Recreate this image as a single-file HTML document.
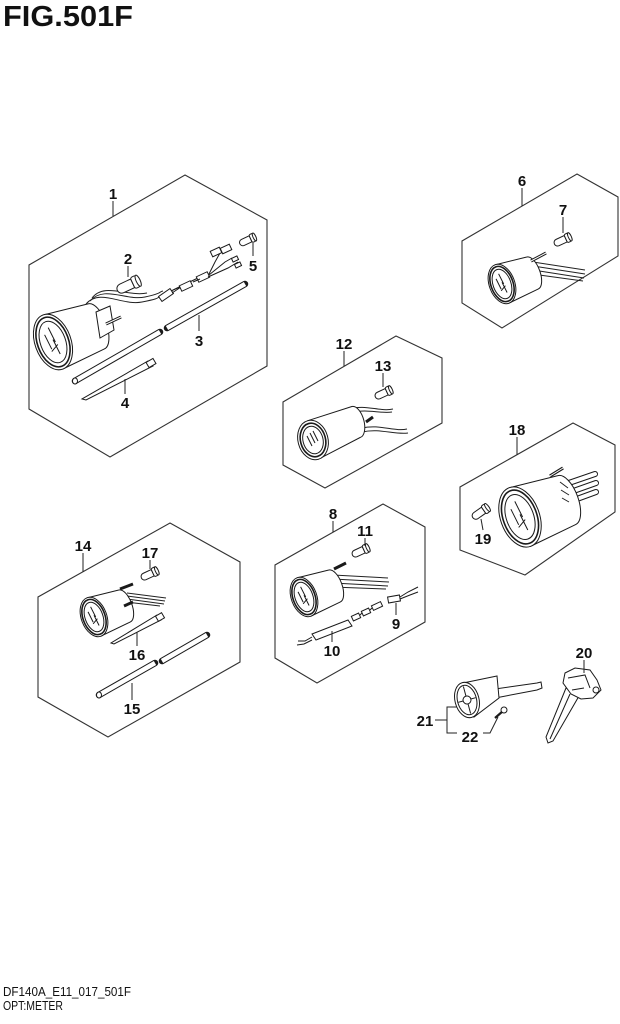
<!DOCTYPE html>
<html><head><meta charset="utf-8"><style>
html,body{margin:0;padding:0;background:#fff;}
svg{display:block;}
.b{fill:none;stroke:#333;stroke-width:1.1;}
.l{fill:none;stroke:#222;stroke-width:1;}
.n{font-family:"Liberation Sans",sans-serif;font-weight:bold;font-size:15px;fill:#111;text-anchor:middle;}
</style></head><body>
<svg width="620" height="1024" viewBox="0 0 620 1024" xmlns="http://www.w3.org/2000/svg">
<defs>
<g id="gauge" fill="#fff" stroke="#1a1a1a" stroke-width="1">
  <path vector-effect="non-scaling-stroke" d="M-8.2,-22.5 L29.2,-31.8 A9,20 -20 0 1 42.8,5.8 L8.2,22.5 Z"/>
  <g transform="rotate(-20)">
    <ellipse vector-effect="non-scaling-stroke" rx="15" ry="24"/>
    <ellipse vector-effect="non-scaling-stroke" rx="13" ry="21.5" stroke-width="1.6"/>
    <ellipse vector-effect="non-scaling-stroke" rx="10.5" ry="18"/>
  </g>
  <path vector-effect="non-scaling-stroke" d="M-7,-6 L-1,6 M-4,-12 L2,0 M0,-2 L6,10 M-1,8 L4,2" fill="none"/>
</g>
<g id="bulb" fill="#fff" stroke="#1a1a1a" stroke-width="1">
  <path vector-effect="non-scaling-stroke" d="M-6,-3.5 L3,-3.5 L3,3.5 L-6,3.5 A3.5,3.5 0 0 1 -6,-3.5 Z"/>
  <rect vector-effect="non-scaling-stroke" x="3" y="-4.5" width="4.5" height="9" rx="1.5"/>
  <ellipse vector-effect="non-scaling-stroke" cx="7.5" rx="1.5" ry="4.5"/>
</g>
</defs>

<!-- Title -->
<text x="3" y="26" font-family="Liberation Sans, sans-serif" font-weight="bold" font-size="29" fill="#111" textLength="130" lengthAdjust="spacingAndGlyphs">FIG.501F</text>

<!-- Boxes -->
<polygon class="b" points="185,175 267,220 267,366 110,457 29,409 29,265"/>
<polygon class="b" points="577,174 618,197 618,256 502,328 462,303 462,241"/>
<polygon class="b" points="396,336 442,358 442,423 325,488 283,465 283,402"/>
<polygon class="b" points="573,423 615,445 615,512 525,575 460,550 460,487"/>
<polygon class="b" points="170,523 240,562 240,662 108,737 38,697 38,597"/>
<polygon class="b" points="383,504 425,527 425,622 317,683 275,658 275,565"/>

<!-- Box 1 contents -->
<g class="l">
  <path d="M86,304 C100,288 122,306 142,302 S156,298 161,296"/>
  <path d="M90,301 C104,285 126,301 145,297 S158,292 163,291"/>
  <path d="M92,298 C104,282 128,297 147,293"/>
</g>
<use href="#gauge" transform="translate(53,342) scale(1.2)"/>
<g fill="#fff" stroke="#1a1a1a" stroke-width="1">
  <path d="M96,312 L110,306 L114,330 L100,338 Z"/>
  <path d="M106,324 L121,317" stroke-width="3"/>
  <path d="M106,324 L121,317" stroke="#fff" stroke-width="1"/>
  <rect x="-7" y="-3" width="14" height="6" transform="translate(166,295) rotate(-35)"/>
  <path d="M171,291 L182,286 M172,293 L190,281 M173,290 L200,277" fill="none"/>
  <rect x="-6" y="-3" width="12" height="6" transform="translate(186,286) rotate(-25)"/>
  <rect x="-6" y="-3" width="12" height="6" transform="translate(203,277) rotate(-25)"/>
  <path d="M193,282 L200,279 M209,274 L215,262 L220,253 M209,275 L225,262 L232,258 M208,277 L228,268 L238,262" fill="none"/>
  <rect x="-5" y="-3" width="10" height="6" transform="translate(216,252) rotate(-25)"/>
  <rect x="-5" y="-3" width="10" height="6" transform="translate(226,249) rotate(-25)"/>
  <rect x="-3" y="-2" width="6" height="4" transform="translate(235,259) rotate(-25)"/>
  <rect x="-3" y="-2" width="6" height="4" transform="translate(238,265) rotate(-25)"/>
</g>
<!-- rod 3 -->
<g stroke-linecap="round">
  <line x1="75" y1="381" x2="160" y2="332" stroke="#1a1a1a" stroke-width="6.5"/>
  <line x1="75" y1="381" x2="160" y2="332" stroke="#fff" stroke-width="4.5" stroke-linecap="butt"/>
  <line x1="167" y1="328" x2="245" y2="284" stroke="#1a1a1a" stroke-width="6.5"/>
  <line x1="167" y1="328" x2="245" y2="284" stroke="#fff" stroke-width="4.5" stroke-linecap="butt"/>
</g>
<ellipse cx="75" cy="381" rx="2.5" ry="3" fill="#fff" stroke="#1a1a1a"/>
<!-- tie 4 -->
<polygon points="148,361 153,366 86,400 82,399" fill="#fff" stroke="#1a1a1a"/>
<rect x="-4" y="-3" width="8" height="6" transform="translate(151,363) rotate(-30)" fill="#fff" stroke="#1a1a1a"/>
<!-- bulbs 2, 5 -->
<use href="#bulb" transform="translate(129,285) rotate(-25) scale(1.35)"/>
<use href="#bulb" transform="translate(248,240) rotate(-25) scale(0.95)"/>

<!-- Box 6 contents -->
<g class="l">
  <path d="M533,262 L585,270 M533,266 L585,274 M533,270 L584,278 M532,274 L583,281"/>
</g>
<use href="#gauge" transform="translate(502,284) scale(0.85)"/>
<path d="M531,261 L546,253" stroke="#1a1a1a" stroke-width="3"/>
<path d="M531,261 L546,253" stroke="#fff" stroke-width="1"/>
<use href="#bulb" transform="translate(563,240) rotate(-25)"/>

<!-- Box 12 contents -->
<g class="l">
  <path d="M350,409 C365,404 380,412 393,409"/>
  <path d="M352,413 C366,408 380,414 392,412"/>
  <path d="M362,428 C380,424 395,432 407,429"/>
  <path d="M362,432 C380,428 395,435 408,433"/>
</g>
<g transform="translate(313,440)" fill="#fff" stroke="#1a1a1a">
  <path d="M-5.2,-19.3 L38.9,-33.5 A8,16 -15 0 1 47.1,-2.5 L5.2,19.3 Z"/>
  <g transform="rotate(-15)">
    <ellipse rx="15" ry="20"/>
    <ellipse rx="12.5" ry="17" stroke-width="1.6"/>
    <ellipse rx="10" ry="14"/>
  </g>
  <path d="M-6,-4 L-1,6 M-3,-7 L2,3 M0,-9 L5,1" fill="none"/>
</g>
<path d="M366,422 L373,417" stroke="#1a1a1a" stroke-width="3"/>
<use href="#bulb" transform="translate(384,393) rotate(-25)"/>

<!-- Box 18 contents -->
<g stroke-linecap="round">
  <line x1="563" y1="485" x2="595" y2="474" stroke="#1a1a1a" stroke-width="6"/>
  <line x1="563" y1="485" x2="595" y2="474" stroke="#fff" stroke-width="4"/>
  <line x1="565" y1="494" x2="596" y2="483" stroke="#1a1a1a" stroke-width="6"/>
  <line x1="565" y1="494" x2="596" y2="483" stroke="#fff" stroke-width="4"/>
  <line x1="566" y1="503" x2="596" y2="492" stroke="#1a1a1a" stroke-width="6"/>
  <line x1="566" y1="503" x2="596" y2="492" stroke="#fff" stroke-width="4"/>
</g>
<use href="#gauge" transform="translate(520,517) scale(1.3)"/>
<path d="M560,482 L568,488 M561,490 L569,495 M562,498 L569,502" class="l"/>
<path d="M550,476 L563,468" stroke="#1a1a1a" stroke-width="3.2"/>
<path d="M550,476 L563,468" stroke="#fff" stroke-width="1"/>
<use href="#bulb" transform="translate(481,512) rotate(-35) scale(1.05)"/>

<!-- Box 14 contents -->
<g class="l">
  <path d="M127,593 L166,598 M127,596 L165,601 M127,599 L164,604 M126,602 L160,606"/>
</g>
<use href="#gauge" transform="translate(94,617) scale(0.85)"/>
<path d="M120,589 L133,584" stroke="#1a1a1a" stroke-width="3"/>
<path d="M124,606 L133,602" stroke="#1a1a1a" stroke-width="3"/>
<use href="#bulb" transform="translate(150,574) rotate(-25)"/>
<polygon points="157,615 161,620 114,644 111,643" fill="#fff" stroke="#1a1a1a"/>
<rect x="-3.5" y="-3" width="7" height="6" transform="translate(160,617) rotate(-30)" fill="#fff" stroke="#1a1a1a"/>
<g stroke-linecap="round">
  <line x1="99" y1="695" x2="155" y2="663" stroke="#1a1a1a" stroke-width="6.5"/>
  <line x1="99" y1="695" x2="155" y2="663" stroke="#fff" stroke-width="4.5" stroke-linecap="butt"/>
  <line x1="162" y1="661" x2="207" y2="635" stroke="#1a1a1a" stroke-width="6.5"/>
  <line x1="162" y1="661" x2="207" y2="635" stroke="#fff" stroke-width="4.5" stroke-linecap="butt"/>
</g>
<ellipse cx="99" cy="695" rx="2.5" ry="3" fill="#fff" stroke="#1a1a1a"/>

<!-- Box 8 contents -->
<g class="l">
  <path d="M333,575 L388,578 M333,579 L389,582 M333,583 L388,586 M332,587 L386,589"/>
</g>
<use href="#gauge" transform="translate(304,597) scale(0.85)"/>
<path d="M334,569 L346,563" stroke="#1a1a1a" stroke-width="3"/>
<use href="#bulb" transform="translate(361,551) rotate(-25)"/>
<g fill="#fff" stroke="#1a1a1a">
  <path d="M298,641 L305,641 L312,637 M297,645 L304,644 L312,640" fill="none"/>
  <path d="M312,634 L348,620 L352,626 L316,640 Z"/>
  <rect x="-4" y="-2.5" width="8" height="5" transform="translate(356,617) rotate(-25)"/>
  <rect x="-4" y="-2.5" width="8" height="5" transform="translate(366,612) rotate(-25)"/>
  <rect x="-5" y="-2.5" width="10" height="5" transform="translate(377,606) rotate(-25)"/>
  <path d="M360,615 L362,613 M370,610 L372,608" fill="none"/>
  <rect x="-6" y="-3" width="12" height="6" transform="translate(394,599) rotate(-10)"/>
  <path d="M400,597 L408,592 L418,587 M400,599 L410,595 L418,592" fill="none"/>
</g>

<!-- Part 21 -->
<g fill="#fff" stroke="#1a1a1a">
  <path d="M537,683 L541,682 L542,688 L537,690 L490,699 L488,690 Z"/>
  <path d="M463,683 L497,676 L499,698 L474,717 Z"/>
  <g transform="translate(467,700) rotate(-15)">
    <ellipse rx="12" ry="18"/>
    <ellipse rx="9.5" ry="15"/>
    <circle r="4"/>
    <path d="M-9,0 L-4,0 M4,0 L9,0 M0,-14 L0,-4 M0,4 L0,14" fill="none"/>
  </g>
</g>
<!-- screw 22 -->
<path d="M495,718 L503,711" stroke="#1a1a1a" stroke-width="2.2"/>
<circle cx="504" cy="710" r="3" fill="#fff" stroke="#1a1a1a"/>
<!-- Part 20 -->
<g fill="#fff" stroke="#1a1a1a">
  <path d="M566,688 L546,737 L548,743 L553,741 L579,696 Z"/>
  <path d="M570,694 L550,739" fill="none"/>
  <path d="M565,673 L575,668 L590,670 L597,680 L601,690 L593,698 L581,699 L571,694 L563,683 Z"/>
  <path d="M568,678 L585,675 L590,688 M572,690 L584,688" fill="none"/>
  <circle cx="596" cy="690" r="3"/>
</g>

<!-- Leaders -->
<g stroke="#222" stroke-width="1" fill="none">
  <path d="M113,201 L113,216"/>
  <path d="M128,266 L128,277"/>
  <path d="M199,331 L199,315"/>
  <path d="M125,394 L125,379"/>
  <path d="M253,256 L253,243"/>
  <path d="M522,188 L522,206"/>
  <path d="M563,217 L563,233"/>
  <path d="M344,351 L344,366"/>
  <path d="M383,373 L383,387"/>
  <path d="M517,437 L517,455"/>
  <path d="M483,530 L481,519"/>
  <path d="M83,553 L83,572"/>
  <path d="M150,560 L150,569"/>
  <path d="M137,646 L137,632"/>
  <path d="M132,700 L132,683"/>
  <path d="M333,521 L333,532"/>
  <path d="M365,538 L365,546"/>
  <path d="M396,615 L396,603"/>
  <path d="M332,642 L332,631"/>
  <path d="M584,660 L584,673"/>
  <path d="M435,720 L447,720 M457,707 L447,707 L447,733 L457,733"/>
  <path d="M483,733 L490,733 L498,717"/>
</g>

<!-- Labels -->
<g class="n">
  <text x="113" y="199">1</text>
  <text x="128" y="264">2</text>
  <text x="199" y="346">3</text>
  <text x="125" y="408">4</text>
  <text x="253" y="271">5</text>
  <text x="522" y="186">6</text>
  <text x="563" y="215">7</text>
  <text x="344" y="349">12</text>
  <text x="383" y="371">13</text>
  <text x="517" y="435">18</text>
  <text x="483" y="544">19</text>
  <text x="83" y="551">14</text>
  <text x="150" y="558">17</text>
  <text x="137" y="660">16</text>
  <text x="132" y="714">15</text>
  <text x="333" y="519">8</text>
  <text x="365" y="536">11</text>
  <text x="396" y="629">9</text>
  <text x="332" y="656">10</text>
  <text x="584" y="658">20</text>
  <text x="425" y="726">21</text>
  <text x="470" y="742">22</text>
</g>

<!-- Footer -->
<text x="3" y="996" font-family="Liberation Sans, sans-serif" font-size="13" fill="#111" textLength="128" lengthAdjust="spacingAndGlyphs">DF140A_E11_017_501F</text>
<text x="3" y="1010" font-family="Liberation Sans, sans-serif" font-size="13" fill="#111" textLength="60" lengthAdjust="spacingAndGlyphs">OPT:METER</text>
</svg>
</body></html>
